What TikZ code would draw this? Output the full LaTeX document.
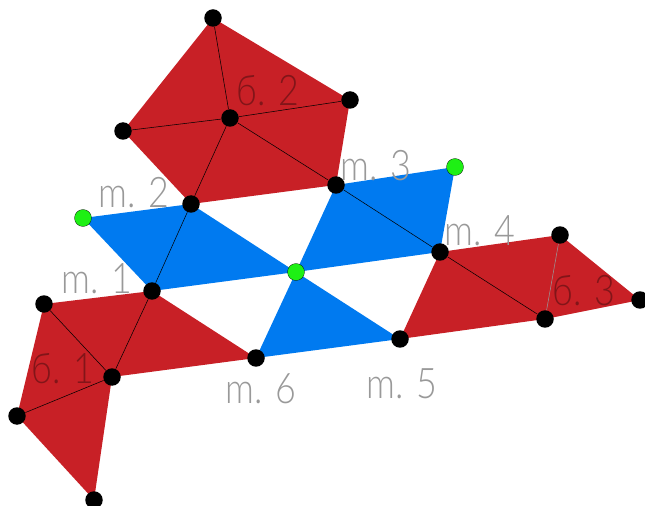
\documentclass[tikz,border=0pt]{standalone}
\usepackage{fontspec}
\newfontfamily\labelfont{Lato Light}[FakeStretch=0.85]
\usetikzlibrary{backgrounds}
\definecolor{patchred}{RGB}{200,32,38}
\definecolor{patchblue}{RGB}{0,122,240}
\definecolor{freegreen}{RGB}{30,240,20}
\tikzset{
  vertex/.style={circle, fill=black, inner sep=0pt, minimum size=0.35cm},
  freevertex/.style={circle, fill=freegreen, draw=black, line width=0.15pt, inner sep=0pt, minimum size=0.34cm},
  redpatch/.style={fill=patchred, line join=round},
  bluepatch/.style={fill=patchblue, line join=round},
  seam/.style={draw=black, line width=0.3pt},
  memberlabel/.style={font=\labelfont\fontsize{24}{24}\selectfont, text=black!40},
  bracelabel/.style={font=\labelfont\fontsize{24}{24}\selectfont, text=patchred!65!black},
}

\begin{document}
\begin{tikzpicture}[x=0.02cm, y=-0.02cm]
\useasboundingbox (0,0) rectangle (645,506);
\node[vertex] (m1) at (152,291) {};
\node[vertex] (m2) at (191,204) {};
\node[vertex] (m3) at (336,185) {};
\node[vertex] (m4) at (440,252) {};
\node[vertex] (m5) at (400,339) {};
\node[vertex] (m6) at (256,358) {};
\node[freevertex] (g1) at (83,218) {};
\node[freevertex] (g2) at (455,167) {};
\node[freevertex] (g3) at (296,272) {};
\node[vertex] (a0) at (112,377) {};
\node[vertex] (a1) at (44,304) {};
\node[vertex] (a2) at (17,416) {};
\node[vertex] (a3) at (94,500) {};
\node[vertex] (b0) at (230,118) {};
\node[vertex] (b1) at (123,131) {};
\node[vertex] (b2) at (213,18) {};
\node[vertex] (b3) at (350,100) {};
\node[vertex] (c0) at (545,319) {};
\node[vertex] (c1) at (560,235) {};
\node[vertex] (c2) at (640,300) {};
\begin{scope}[on background layer]
\fill[bluepatch] (g1.center) -- (m2.center) -- (g3.center) -- (m1.center) -- cycle;
\fill[bluepatch] (m3.center) -- (g2.center) -- (m4.center) -- (g3.center) -- cycle;
\fill[bluepatch] (g3.center) -- (m5.center) -- (m6.center) -- cycle;
\fill[redpatch] (m1.center) -- (a1.center) -- (a2.center) -- (a3.center) -- (a0.center) -- (m6.center) -- cycle;
\fill[redpatch] (m2.center) -- (b1.center) -- (b2.center) -- (b3.center) -- (m3.center) -- cycle;
\fill[redpatch] (m4.center) -- (c1.center) -- (c2.center) -- (c0.center) -- (m5.center) -- cycle;
\draw[seam] (m1) -- (m2);
\draw[seam] (m3) -- (m4);
\draw[seam] (a0) -- (m1);
\draw[seam] (a0) -- (a1);
\draw[seam] (a0) -- (a2);
\draw[seam] (b0) -- (m2);
\draw[seam] (b0) -- (m3);
\draw[seam] (b0) -- (b1);
\draw[seam] (b0) -- (b2);
\draw[seam] (b0) -- (b3);
\draw[seam] (c0) -- (m4);
\draw[seam, draw=black!40] (c0) -- (c1);
\end{scope}
\node[memberlabel] (m1label) at (97,279) {m. 1};
\node[memberlabel] (m2label) at (134,193) {m. 2};
\node[memberlabel] (m3label) at (376,166) {m. 3};
\node[memberlabel] (m4label) at (480,231) {m. 4};
\node[memberlabel] (m5label) at (402,384) {m. 5};
\node[memberlabel] (m6label) at (261,389) {m. 6};
\node[bracelabel] (a0label) at (63,369) {б. 1};
\node[bracelabel] (b0label) at (268,91) {б. 2};
\node[bracelabel] (c0label) at (584,291) {б. 3};
\end{tikzpicture}
\end{document}
